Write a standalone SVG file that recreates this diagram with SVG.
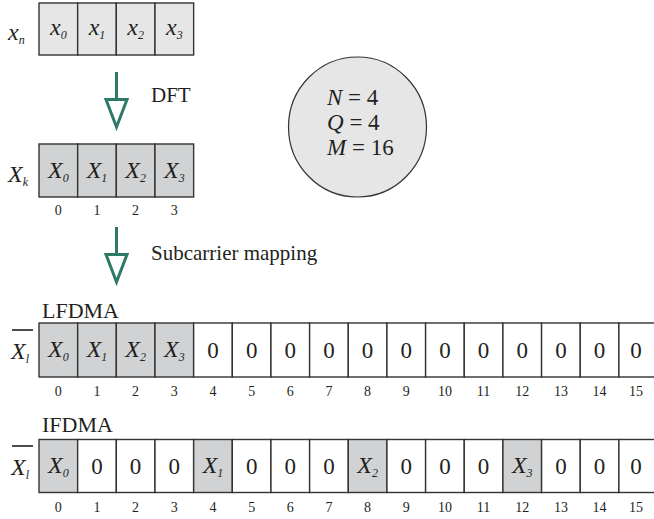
<svg xmlns="http://www.w3.org/2000/svg" width="654" height="519" viewBox="0 0 654 519">
<style>
text{font-family:"Liberation Serif","Times New Roman",serif;fill:#231f20}
.v{font-style:italic;font-size:24px}
.s{font-size:12px;font-style:italic}
.z{font-size:23px}
.i{font-size:14px}
.l{font-size:21px}
.h{font-size:22px}
.p{font-size:23px}
.c{stroke:#333;stroke-width:1.4}
.g1{fill:#e6e6e7}
.g2{fill:#d1d2d4}
.w{fill:#fff}
.arr{stroke:#2d7a68;stroke-width:3;fill:#fff}
</style>
<rect width="654" height="519" fill="#fff"/>
<g id="xn">
<text x="8" y="40" class="v">x<tspan class="s" dy="4">n</tspan></text>
<rect x="39" y="3" width="38.66" height="52" class="c g1"/>
<rect x="77.66" y="3" width="38.66" height="52" class="c g1"/>
<rect x="116.32" y="3" width="38.66" height="52" class="c g1"/>
<rect x="154.98" y="3" width="38.66" height="52" class="c g1"/>
<text x="58.3" y="35" text-anchor="middle" class="v">x<tspan class="s" dy="4">0</tspan></text>
<text x="97" y="35" text-anchor="middle" class="v">x<tspan class="s" dy="4">1</tspan></text>
<text x="135.6" y="35" text-anchor="middle" class="v">x<tspan class="s" dy="4">2</tspan></text>
<text x="174.3" y="35" text-anchor="middle" class="v">x<tspan class="s" dy="4">3</tspan></text>
</g>
<g id="params">
<ellipse cx="357.5" cy="127" rx="69" ry="70" fill="#e6e6e7" stroke="#333" stroke-width="1.2"/>
<text x="327" y="105" class="p"><tspan font-style="italic">N</tspan> = 4</text>
<text x="327" y="130" class="p"><tspan font-style="italic">Q</tspan> = 4</text>
<text x="327" y="155" class="p"><tspan font-style="italic">M</tspan> = 16</text>
</g>
<g id="Xk">
<text x="8" y="182" class="v">X<tspan class="s" dy="4">k</tspan></text>
<rect x="39" y="144" width="38.66" height="53" class="c g2"/>
<rect x="77.66" y="144" width="38.66" height="53" class="c g2"/>
<rect x="116.32" y="144" width="38.66" height="53" class="c g2"/>
<rect x="154.98" y="144" width="38.66" height="53" class="c g2"/>
<text x="58.3" y="178" text-anchor="middle" class="v">X<tspan class="s" dy="4">0</tspan></text>
<text x="97" y="178" text-anchor="middle" class="v">X<tspan class="s" dy="4">1</tspan></text>
<text x="135.6" y="178" text-anchor="middle" class="v">X<tspan class="s" dy="4">2</tspan></text>
<text x="174.3" y="178" text-anchor="middle" class="v">X<tspan class="s" dy="4">3</tspan></text>
<text x="58.3" y="215" text-anchor="middle" class="i">0</text>
<text x="97" y="215" text-anchor="middle" class="i">1</text>
<text x="135.6" y="215" text-anchor="middle" class="i">2</text>
<text x="174.3" y="215" text-anchor="middle" class="i">3</text>
</g>
<g id="connectors">
<line x1="116.5" y1="72" x2="116.5" y2="99" class="arr"/>
<polygon points="106,99.5 127,99.5 116.5,127" class="arr"/>
<text x="151" y="102" class="l">DFT</text>
<line x1="116.5" y1="227" x2="116.5" y2="254" class="arr"/>
<polygon points="106,254.5 127,254.5 116.5,282" class="arr"/>
<text x="151" y="260" class="l">Subcarrier mapping</text>
</g>
<g id="lfdma">
<text x="42" y="318" class="h">LFDMA</text>
<line x1="12" y1="330" x2="33" y2="330" stroke="#231f20" stroke-width="1.6"/>
<text x="11" y="359" class="v">X<tspan class="s" dy="4">l</tspan></text>
<g class="c">
<rect x="39" y="323" width="38.66" height="54" class="g2"/>
<rect x="77.66" y="323" width="38.66" height="54" class="g2"/>
<rect x="116.32" y="323" width="38.66" height="54" class="g2"/>
<rect x="154.98" y="323" width="38.66" height="54" class="g2"/>
<rect x="193.64" y="323" width="38.66" height="54" class="w"/>
<rect x="232.3" y="323" width="38.66" height="54" class="w"/>
<rect x="270.96" y="323" width="38.66" height="54" class="w"/>
<rect x="309.62" y="323" width="38.66" height="54" class="w"/>
<rect x="348.28" y="323" width="38.66" height="54" class="w"/>
<rect x="386.94" y="323" width="38.66" height="54" class="w"/>
<rect x="425.6" y="323" width="38.66" height="54" class="w"/>
<rect x="464.26" y="323" width="38.66" height="54" class="w"/>
<rect x="502.92" y="323" width="38.66" height="54" class="w"/>
<rect x="541.58" y="323" width="38.66" height="54" class="w"/>
<rect x="580.24" y="323" width="38.66" height="54" class="w"/>
<rect x="618.9" y="323" width="38.66" height="54" class="w"/>
</g>
<text x="58.3" y="357" text-anchor="middle" class="v">X<tspan class="s" dy="4">0</tspan></text>
<text x="97" y="357" text-anchor="middle" class="v">X<tspan class="s" dy="4">1</tspan></text>
<text x="135.6" y="357" text-anchor="middle" class="v">X<tspan class="s" dy="4">2</tspan></text>
<text x="174.3" y="357" text-anchor="middle" class="v">X<tspan class="s" dy="4">3</tspan></text>
<g class="z" text-anchor="middle">
<text x="212.97" y="358">0</text><text x="251.63" y="358">0</text><text x="290.29" y="358">0</text><text x="328.95" y="358">0</text>
<text x="367.61" y="358">0</text><text x="406.27" y="358">0</text><text x="444.93" y="358">0</text><text x="483.59" y="358">0</text>
<text x="522.25" y="358">0</text><text x="560.91" y="358">0</text><text x="599.57" y="358">0</text><text x="636" y="358">0</text>
</g>
<g class="i" text-anchor="middle">
<text x="58.3" y="396">0</text><text x="97" y="396">1</text><text x="135.6" y="396">2</text><text x="174.3" y="396">3</text>
<text x="212.97" y="396">4</text><text x="251.63" y="396">5</text><text x="290.29" y="396">6</text><text x="328.95" y="396">7</text>
<text x="367.61" y="396">8</text><text x="406.27" y="396">9</text><text x="444.93" y="396">10</text><text x="483.59" y="396">11</text>
<text x="522.25" y="396">12</text><text x="560.91" y="396">13</text><text x="599.57" y="396">14</text><text x="636" y="396">15</text>
</g>
</g>
<g id="ifdma">
<text x="42" y="432" class="h">IFDMA</text>
<line x1="12" y1="446" x2="33" y2="446" stroke="#231f20" stroke-width="1.6"/>
<text x="11" y="475" class="v">X<tspan class="s" dy="4">l</tspan></text>
<g class="c">
<rect x="39" y="439.5" width="38.66" height="53" class="g2"/>
<rect x="77.66" y="439.5" width="38.66" height="53" class="w"/>
<rect x="116.32" y="439.5" width="38.66" height="53" class="w"/>
<rect x="154.98" y="439.5" width="38.66" height="53" class="w"/>
<rect x="193.64" y="439.5" width="38.66" height="53" class="g2"/>
<rect x="232.3" y="439.5" width="38.66" height="53" class="w"/>
<rect x="270.96" y="439.5" width="38.66" height="53" class="w"/>
<rect x="309.62" y="439.5" width="38.66" height="53" class="w"/>
<rect x="348.28" y="439.5" width="38.66" height="53" class="g2"/>
<rect x="386.94" y="439.5" width="38.66" height="53" class="w"/>
<rect x="425.6" y="439.5" width="38.66" height="53" class="w"/>
<rect x="464.26" y="439.5" width="38.66" height="53" class="w"/>
<rect x="502.92" y="439.5" width="38.66" height="53" class="g2"/>
<rect x="541.58" y="439.5" width="38.66" height="53" class="w"/>
<rect x="580.24" y="439.5" width="38.66" height="53" class="w"/>
<rect x="618.9" y="439.5" width="38.66" height="53" class="w"/>
</g>
<text x="58.3" y="473" text-anchor="middle" class="v">X<tspan class="s" dy="4">0</tspan></text>
<text x="212.97" y="473" text-anchor="middle" class="v">X<tspan class="s" dy="4">1</tspan></text>
<text x="367.61" y="473" text-anchor="middle" class="v">X<tspan class="s" dy="4">2</tspan></text>
<text x="522.25" y="473" text-anchor="middle" class="v">X<tspan class="s" dy="4">3</tspan></text>
<g class="z" text-anchor="middle">
<text x="97" y="474">0</text><text x="135.6" y="474">0</text><text x="174.3" y="474">0</text>
<text x="251.63" y="474">0</text><text x="290.29" y="474">0</text><text x="328.95" y="474">0</text>
<text x="406.27" y="474">0</text><text x="444.93" y="474">0</text><text x="483.59" y="474">0</text>
<text x="560.91" y="474">0</text><text x="599.57" y="474">0</text><text x="636" y="474">0</text>
</g>
<g class="i" text-anchor="middle">
<text x="58.3" y="512">0</text><text x="97" y="512">1</text><text x="135.6" y="512">2</text><text x="174.3" y="512">3</text>
<text x="212.97" y="512">4</text><text x="251.63" y="512">5</text><text x="290.29" y="512">6</text><text x="328.95" y="512">7</text>
<text x="367.61" y="512">8</text><text x="406.27" y="512">9</text><text x="444.93" y="512">10</text><text x="483.59" y="512">11</text>
<text x="522.25" y="512">12</text><text x="560.91" y="512">13</text><text x="599.57" y="512">14</text><text x="636" y="512">15</text>
</g>
</g>
</svg>
